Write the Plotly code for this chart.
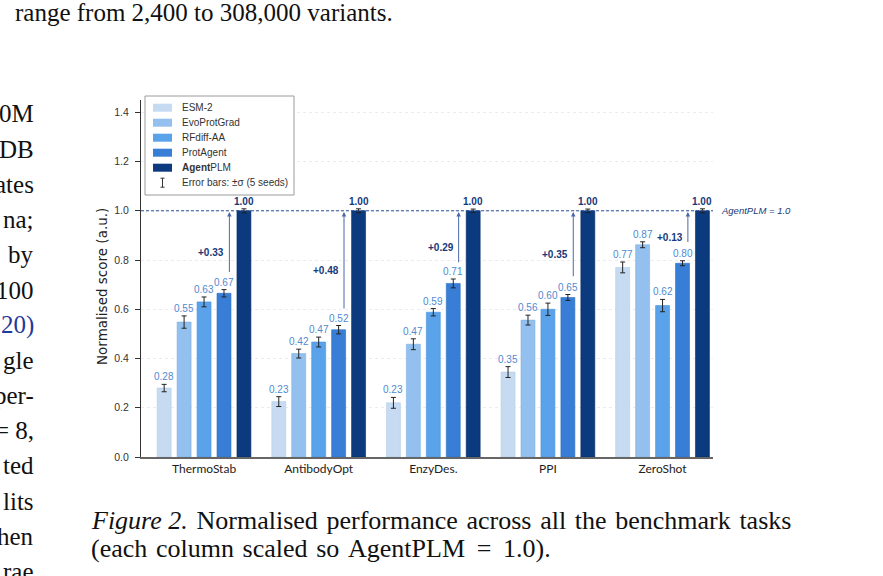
import plotly.graph_objects as go

# ---------------- data ----------------
tasks = ["ThermoStab", "AntibodyOpt", "EnzyDes.", "PPI", "ZeroShot"]
methods = ["ESM-2", "EvoProtGrad", "RFdiff-AA", "ProtAgent", "AgentPLM"]

esm2 = [0.28, 0.225, 0.22, 0.345, 0.77]
evoprotgrad = [0.548, 0.42, 0.458, 0.556, 0.862]
rfdiff = [0.63, 0.467, 0.588, 0.60, 0.615]
protagent = [0.665, 0.517, 0.705, 0.648, 0.787]
agentplm = [1.0, 1.0, 1.0, 1.0, 1.0]

esm2_err = [0.015, 0.02, 0.022, 0.022, 0.022]
evoprotgrad_err = [0.025, 0.018, 0.022, 0.02, 0.012]
rfdiff_err = [0.02, 0.02, 0.015, 0.025, 0.025]
protagent_err = [0.015, 0.017, 0.018, 0.012, 0.01]
agentplm_err = [0.008, 0.008, 0.007, 0.007, 0.008]

esm2_lbl = ["0.28", "0.23", "0.23", "0.35", "0.77"]
evoprotgrad_lbl = ["0.55", "0.42", "0.47", "0.56", "0.87"]
rfdiff_lbl = ["0.63", "0.47", "0.59", "0.60", "0.62"]
protagent_lbl = ["0.67", "0.52", "0.71", "0.65", "0.80"]
agentplm_lbl = ["1.00", "1.00", "1.00", "1.00", "1.00"]

gains = ["+0.33", "+0.48", "+0.29", "+0.35", "+0.13"]

y_ticks = [0.0, 0.2, 0.4, 0.6, 0.8, 1.0, 1.2, 1.4]

legend_labels = ["ESM-2", "EvoProtGrad", "RFdiff-AA", "ProtAgent", "<b>Agent</b>PLM"]
errorbar_label = "Error bars: ±σ (5 seeds)"
y_title = "Normalised score (a.u.)"
ref_label = "<i>AgentPLM = 1.0</i>"

# page context text
top_line = "range from 2,400 to 308,000 variants."
left_fragments = ["0M", "DB", "ates", "na;", "by", "100", "20)", "gle",
                  "per-", "= 8,", "ted", "lits", "hen", "rae"]
caption_1_words = ["<i>Figure 2.</i>", "Normalised", "performance", "across", "all", "the",
                   "benchmark", "tasks"]
caption_2_words = ["(each", "column", "scaled", "so", "AgentPLM", "=", "1.0)."]

# ---------------- style ----------------
colors = ["#c6dbf2", "#93c0ee", "#5aa2ea", "#387ed6", "#0b3a7e"]
line_colors = ["#b3cbe6", "#7fb0e3", "#4a92dc", "#2c6ec4", "#082f68"]
label_color = "#4f8ad2"
navy = "#15397a"
ax_font = "Liberation Sans"
cat_font = "Lato"
serif = "Liberation Serif"

series = [esm2, evoprotgrad, rfdiff, protagent, agentplm]
errs = [esm2_err, evoprotgrad_err, rfdiff_err, protagent_err, agentplm_err]
lbls = [esm2_lbl, evoprotgrad_lbl, rfdiff_lbl, protagent_lbl, agentplm_lbl]

W, H = 883, 576
ML, MR, MT, MB = 141, 170, 100, 119
YMAX = 1.45
BARGAP = 0.13
nser = len(methods)
slot = (1 - BARGAP) / nser

pw, ph = W - ML - MR, H - MT - MB
def px(xp):   # page pixel -> paper x
    return (xp - ML) / pw
def py(yp):   # page pixel -> paper y
    return (H - MB - yp) / ph

fig = go.Figure()
for i, m in enumerate(methods):
    fig.add_trace(go.Bar(
        x=tasks, y=series[i], name=m, showlegend=False,
        marker=dict(color=colors[i], line=dict(color=line_colors[i], width=0.6)),
        error_y=dict(type="data", array=errs[i], color="#222222", thickness=1, width=2.5),
    ))

annotations = []
shapes = []

# value labels
for i in range(nser):
    for j, t in enumerate(tasks):
        xpos = j + (i - (nser - 1) / 2) * slot
        bold = i == nser - 1
        annotations.append(dict(
            x=xpos, y=series[i][j] + errs[i][j], xref="x", yref="y",
            text=("<b>%s</b>" % lbls[i][j]) if bold else lbls[i][j],
            showarrow=False, yanchor="bottom", yshift=0,
            font=dict(family=ax_font, size=10, color=navy if bold else label_color),
        ))

# gain arrows
for j, t in enumerate(tasks):
    xa = j + 1.27 * slot
    tail = protagent[j] + 0.08
    annotations.append(dict(
        x=xa, y=agentplm[j] - 0.005, ax=xa, ay=tail, xref="x", yref="y", axref="x", ayref="y",
        showarrow=True, arrowhead=2, arrowsize=0.9, arrowwidth=1, arrowcolor="#4a68a8", text="",
    ))
    annotations.append(dict(
        x=xa, y=(protagent[j] + agentplm[j]) / 2, xref="x", yref="y",
        text="<b>%s</b>" % gains[j], showarrow=False, xanchor="right", xshift=-3,
        font=dict(family=ax_font, size=10, color=navy),
    ))

annotations.append(dict(
    x=1, y=1.0, xref="paper", yref="y", text=ref_label, showarrow=False,
    xanchor="left", xshift=6, font=dict(family=ax_font, size=9.5, color=navy),
))

# reference line at AgentPLM = 1.0
shapes.append(dict(type="line", xref="paper", yref="y", x0=0, x1=1, y0=1.0, y1=1.0,
                   line=dict(color="#2a4f94", width=1, dash="3px,2px"), layer="above"))

# y-axis title
annotations.append(dict(x=px(102), y=py(287), xref="paper", yref="paper", text=y_title,
                        textangle=-90, showarrow=False, xanchor="center", yanchor="middle",
                        font=dict(family="DejaVu Sans", size=13.5, color="#222222")))

# legend box (drawn by hand to match item spacing)
shapes.append(dict(type="rect", xref="paper", yref="paper", x0=px(145), x1=px(294),
                   y0=py(195), y1=py(96), fillcolor="white",
                   line=dict(color="#9a9a9a", width=1), layer="above"))
item_y0, item_dy = 107.7, 15.0
for i, lab in enumerate(legend_labels):
    yc = item_y0 + i * item_dy
    shapes.append(dict(type="rect", xref="paper", yref="paper", x0=px(153), x1=px(172),
                       y0=py(yc + 4), y1=py(yc - 4), fillcolor=colors[i],
                       line=dict(width=0), layer="above"))
    annotations.append(dict(x=px(180), y=py(yc), xref="paper", yref="paper", text=lab,
                            showarrow=False, xanchor="left", yanchor="middle",
                            font=dict(family=ax_font, size=10, color="#333333")))
yc = item_y0 + len(legend_labels) * item_dy
for (x0, x1, y0, y1) in [(162.5, 162.5, yc - 4.5, yc + 4.5), (160.5, 164.5, yc - 4.5, yc - 4.5),
                         (160.5, 164.5, yc + 4.5, yc + 4.5)]:
    shapes.append(dict(type="line", xref="paper", yref="paper", x0=px(x0), x1=px(x1),
                       y0=py(y0), y1=py(y1), line=dict(color="#333333", width=1), layer="above"))
annotations.append(dict(x=px(180), y=py(yc), xref="paper", yref="paper", text=errorbar_label,
                        showarrow=False, xanchor="left", yanchor="middle",
                        font=dict(family=ax_font, size=10, color="#333333")))

# page context text
annotations.append(dict(x=px(13), y=py(12), xref="paper", yref="paper", text=top_line,
                        showarrow=False, xanchor="left", yanchor="middle",
                        font=dict(family=serif, size=25, color="#111111")))
for k, frag in enumerate(left_fragments):
    annotations.append(dict(x=px(36), y=py(114 + k * 35.2), xref="paper", yref="paper",
                            text=frag, showarrow=False, xanchor="right", yanchor="middle",
                            font=dict(family=serif, size=25,
                                      color="#1f3a9a" if frag == "20)" else "#111111")))
gap = " \u200a"
annotations.append(dict(x=px(89), y=py(520), xref="paper", yref="paper",
                        text=gap.join(caption_1_words),
                        showarrow=False, xanchor="left", yanchor="middle",
                        font=dict(family=serif, size=26, color="#111111")))
annotations.append(dict(x=px(89), y=py(548), xref="paper", yref="paper",
                        text=gap.join(caption_2_words[:5]) + "\u2009 = \u2009" + caption_2_words[6],
                        showarrow=False, xanchor="left", yanchor="middle",
                        font=dict(family=serif, size=26, color="#111111")))

fig.update_layout(
    width=W, height=H,
    margin=dict(l=ML, r=MR, t=MT, b=MB, pad=0),
    paper_bgcolor="white", plot_bgcolor="white",
    barmode="group", bargap=BARGAP, bargroupgap=0.3,
    font=dict(family=ax_font, size=11, color="#333333"),
    showlegend=False, hovermode=False,
    annotations=annotations,
    shapes=shapes,
)
fig.update_xaxes(
    range=[-0.55, 4.44], showline=True, linecolor="#666666", linewidth=1.5,
    ticks="", showgrid=False,
    tickfont=dict(family=cat_font, size=12, color="#222222"),
)
fig.update_yaxes(
    range=[0, YMAX], tickvals=y_ticks, ticktext=["%.1f" % v for v in y_ticks],
    showline=True, linecolor="#333333", linewidth=1, ticks="outside", ticklen=5,
    tickcolor="#333333", showgrid=True, gridcolor="#ececec", griddash="dot",
    zeroline=False, ticklabelstandoff=4,
    tickfont=dict(family=ax_font, size=10.5, color="#333333"),
)

fig.write_html("out.html", config={"displayModeBar": False},
               post_script="document.body.style.margin='0px';document.body.style.overflow='hidden';")
